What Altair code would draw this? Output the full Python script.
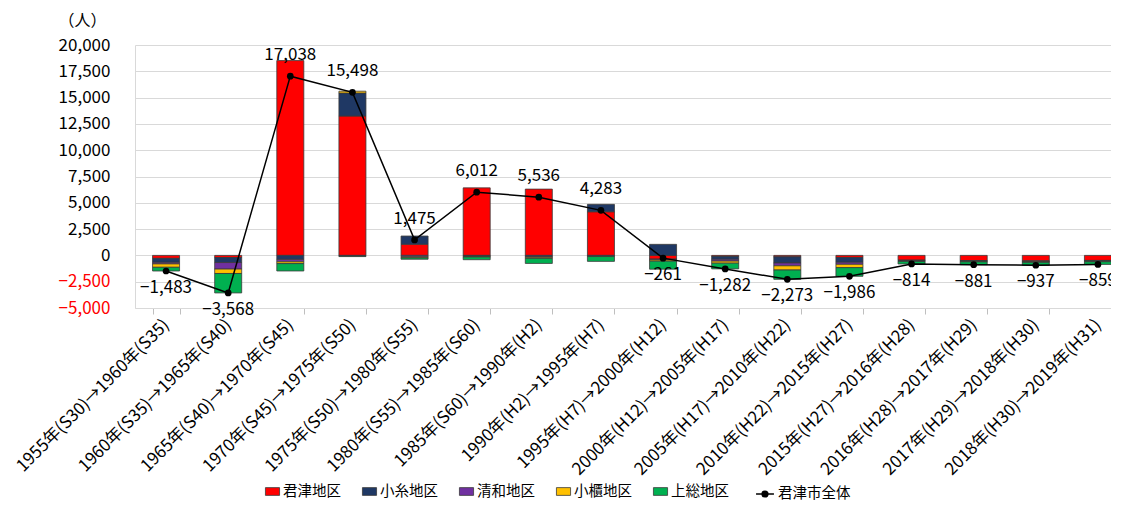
import altair as alt
import pandas as pd

periods = [
    "1955年(S30)→1960年(S35)", "1960年(S35)→1965年(S40)", "1965年(S40)→1970年(S45)",
    "1970年(S45)→1975年(S50)", "1975年(S50)→1980年(S55)", "1980年(S55)→1985年(S60)",
    "1985年(S60)→1990年(H2)", "1990年(H2)→1995年(H7)", "1995年(H7)→2000年(H12)",
    "2000年(H12)→2005年(H17)", "2005年(H17)→2010年(H22)", "2010年(H22)→2015年(H27)",
    "2015年(H27)→2016年(H28)", "2016年(H28)→2017年(H29)", "2017年(H29)→2018年(H30)",
    "2018年(H30)→2019年(H31)",
]
districts = ["君津地区", "小糸地区", "清和地区", "小櫃地区", "上総地区"]
district_colors = ["#FF0000", "#1F3864", "#7030A0", "#FFC000", "#00B050"]

kimitsu = [-280, -200, 18518, 13250, 1060, 6420, 6300, 4150, -350, -100, -134, -194, -450, -490, -520, -480]
koito = [-380, -480, -380, 2180, 780, -60, -120, 700, 1050, -270, -588, -460, -50, -50, -60, -50]
seiwa = [-150, -620, -230, -50, -140, -50, -60, -60, -80, -170, -267, -194, -30, -30, -35, -30]
obitsu = [-320, -420, -170, 180, -90, -40, -100, -50, -120, -200, -401, -315, -40, -40, -45, -40]
kazusa = [-353, -1848, -700, -62, -135, -258, -484, -457, -761, -542, -883, -823, -244, -271, -277, -259]
city_total = [-1483, -3568, 17038, 15498, 1475, 6012, 5536, 4283, -261, -1282, -2273, -1986, -814, -881, -937, -859]
total_name = "君津市全体"
y_ticks = [-5000, -2500, 0, 2500, 5000, 7500, 10000, 12500, 15000, 17500, 20000]

series = [kimitsu, koito, seiwa, obitsu, kazusa]
rows = []
for i, p in enumerate(periods):
    for j, d in enumerate(districts):
        rows.append({"period": p, "district": d, "idx": j, "value": series[j][i]})
bars_df = pd.DataFrame(rows)
total_df = pd.DataFrame({"period": periods, "total": city_total, "series": [total_name] * len(periods)})

FONT = "Noto Sans CJK JP"

xscale = alt.Scale(domain=periods, range=[0, 994], paddingInner=0.565, paddingOuter=0.2825)
yscale = alt.Scale(domain=[-5000, 20000], nice=False, zero=False)

x_enc = alt.X(
    "period:N", sort=periods, scale=xscale,
    axis=alt.Axis(
        title=None, labelAngle=-45, labelFontSize=17, labelFont=FONT, labelColor="black",
        labelAlign="right", labelBaseline="middle",
        tickBand="extent", tickColor="#BFBFBF", tickSize=6, domainColor="#D9D9D9",
        labelPadding=8, labelLimit=400, grid=False,
    ),
)

y_axis = alt.Axis(
    title="（人）", titleAngle=0, titleX=-53, titleY=-25, titleAlign="center",
    titleBaseline="middle", titleFontSize=16, titleFont=FONT, titleFontWeight="normal",
    titleColor="black",
    values=y_ticks, format=",.0f", labelFontSize=17, labelFont=FONT,
    labelColor={"condition": {"test": "datum.value < 0", "value": "#FF0000"}, "value": "black"},
    labelPadding=25, ticks=False, domainColor="#D9D9D9", gridColor="#D9D9D9",
)

bars = alt.Chart(bars_df).mark_bar(stroke="#3a3a3a", strokeWidth=0.8).encode(
    x=x_enc,
    y=alt.Y("value:Q", stack="zero", scale=yscale, axis=y_axis),
    color=alt.Color(
        "district:N",
        scale=alt.Scale(domain=districts, range=district_colors),
        legend=alt.Legend(
            title=None, orient="none", legendX=130, legendY=439, direction="horizontal",
            symbolType="M-1,-0.55H1V0.55H-1Z", symbolSize=200,
            symbolStrokeColor="#3a3a3a", symbolStrokeWidth=0.8,
            labelFont=FONT, labelFontSize=14.5, labelColor="black", columnPadding=19,
            labelOffset=3,
        ),
    ),
    order=alt.Order("idx:Q", sort="ascending"),
)

line = alt.Chart(total_df).mark_line(
    strokeWidth=1.5, point=alt.OverlayMarkDef(filled=True, size=45, color="black")
).encode(
    x=x_enc,
    y=alt.Y("total:Q", scale=yscale, axis=y_axis),
    color=alt.Color(
        "series:N",
        scale=alt.Scale(domain=[total_name], range=["black"]),
        legend=alt.Legend(
            title=None, orient="none", legendX=620, legendY=439, direction="horizontal",
            symbolType="M-1,0H1M0.32,0A0.32,0.32 0 1,1 -0.32,0A0.32,0.32 0 1,1 0.32,0Z",
            symbolSize=320, symbolFillColor="black", symbolStrokeColor="black",
            symbolStrokeWidth=1.5,
            labelFont=FONT, labelFontSize=14.5, labelColor="black", labelOffset=3,
        ),
    ),
)

text_pos = alt.Chart(total_df).transform_filter("datum.total >= 0").mark_text(
    dy=-21, fontSize=17, font=FONT, color="black"
).encode(
    x=x_enc, y=alt.Y("total:Q", scale=yscale, axis=y_axis), text=alt.Text("total:Q", format=",")
)
text_neg = alt.Chart(total_df).transform_filter("datum.total < 0").mark_text(
    dy=17, fontSize=17, font=FONT, color="black"
).encode(
    x=x_enc, y=alt.Y("total:Q", scale=yscale, axis=y_axis), text=alt.Text("total:Q", format=",")
)

chart = alt.layer(bars, line, text_pos, text_neg).resolve_scale(color="independent").properties(
    width=976, height=263,
    autosize=alt.AutoSizeParams(type="none"),
    padding={"left": 127, "top": 37, "right": 0, "bottom": 192},
).configure_view(stroke=None).configure_axis(labelOverlap=False)

chart.save("out.html", embed_options={"renderer": "svg", "actions": False})
